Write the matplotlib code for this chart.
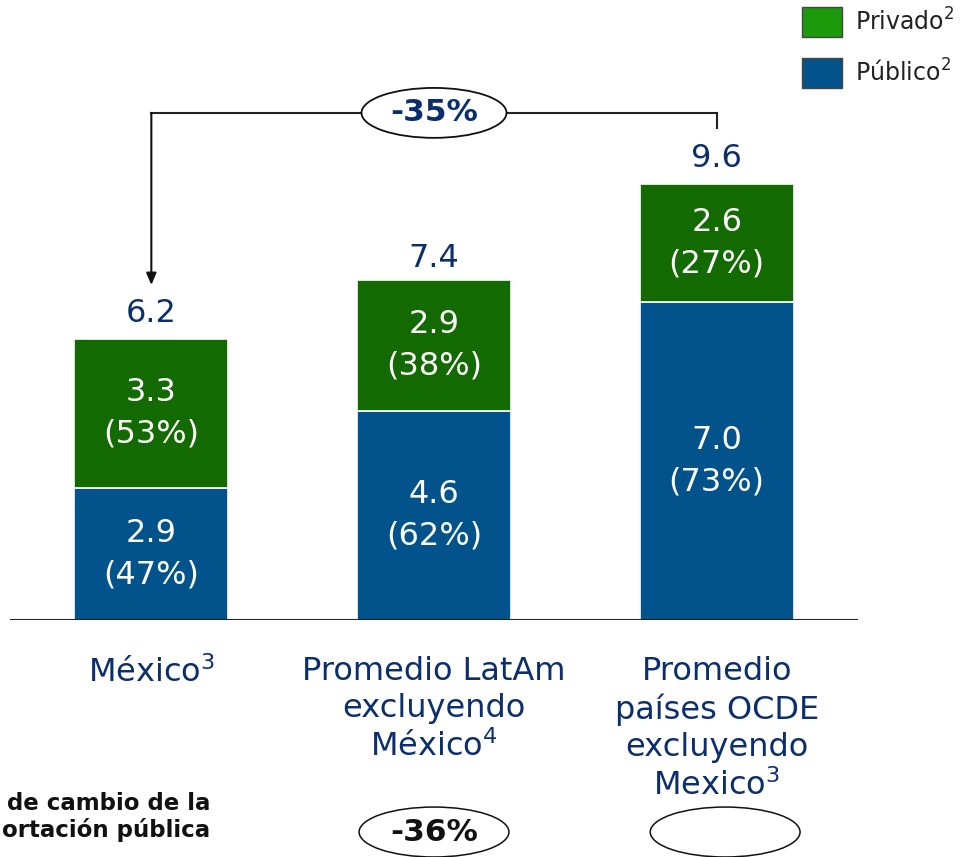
from matplotlib import pyplot as plt
from matplotlib.patches import Ellipse, Rectangle

# data
categorias = ["México$^{3}$", "Promedio LatAm\nexcluyendo\nMéxico$^{4}$",
              "Promedio\npaíses OCDE\nexcluyendo\nMexico$^{3}$"]
publico = [2.9, 4.6, 7.0]
privado = [3.3, 2.9, 2.6]
pct_publico = ["47%", "62%", "73%"]
pct_privado = ["53%", "38%", "27%"]
totales = [6.2, 7.4, 9.6]
cambio_total = "-35%"
cambio_publico = ["-36%", ""]
leyenda = ["Privado$^{2}$", "Público$^{2}$"]

azul = "#02538b"
verde = "#136a00"
verde_leyenda = "#1c9a0c"
navy = "#0b2f6e"

W, H = 967, 857
fig = plt.figure(figsize=(W / 100, H / 100), dpi=100)
ax = fig.add_axes([10 / W, (H - 620) / H, 848 / W, 620 / H])
ax.set_xlim(-0.5, 2.5)
ax.set_ylim(0, 620 / 45.4)
ax.axis("off")

x = range(len(categorias))
ax.bar(x, publico, width=0.545, color=azul, edgecolor="white", linewidth=1.2)
ax.bar(x, privado, width=0.545, bottom=publico, color=verde, edgecolor="white", linewidth=1.2)
ax.axhline(0, color="#222222", lw=1.5)

for i in x:
    ax.text(i, publico[i] / 2, f"{publico[i]:.1f}\n({pct_publico[i]})", ha="center", va="center",
            color="white", fontsize=23, linespacing=1.45)
    ax.text(i, publico[i] + privado[i] / 2, f"{privado[i]:.1f}\n({pct_privado[i]})", ha="center",
            va="center", color="white", fontsize=23, linespacing=1.45)
    ax.text(i, totales[i] + 0.56, f"{totales[i]:.1f}", ha="center", va="center", color=navy, fontsize=23)
    ax.text(i, -0.8, categorias[i], ha="center", va="top", color=navy, fontsize=23,
            linespacing=1.25, clip_on=False)

# bracket with the change
yb = 11.17
ax.plot([0, 2], [yb, yb], color="#222222", lw=1.5, clip_on=False)
ax.plot([2, 2], [yb, 10.84], color="#222222", lw=1.5, clip_on=False)
ax.annotate("", xy=(0, 7.38), xytext=(0, yb),
            arrowprops=dict(arrowstyle="-|>,head_length=0.7,head_width=0.3", color="#111111",
                            lw=1.5, shrinkA=0, shrinkB=0))
ax.add_patch(Ellipse((1, yb), 0.513, 1.1, facecolor="white", edgecolor="#111111", lw=1.3, zorder=3))
ax.text(1, yb, cambio_total, ha="center", va="center", color=navy, fontsize=22.5,
        fontweight="bold", zorder=4)

# bottom row
for xc, txt in zip([1.0, 2.03], cambio_publico):
    ax.add_patch(Ellipse((xc, -4.67), 0.53, 1.1, facecolor="white", edgecolor="#111111",
                         lw=1.1, clip_on=False))
    ax.text(xc, -4.67, txt, ha="center", va="center", color="#111111", fontsize=22.5,
            fontweight="bold", clip_on=False)

fig.text(210 / W, 1 - 817 / H, "de cambio de la\nortación pública",
         ha="right", va="center", fontsize=16.5, fontweight="bold", color="#111111",
         multialignment="right", linespacing=1.2)

# legend
for yy, col, lab in [(7, verde_leyenda, leyenda[0]), (58, azul, leyenda[1])]:
    fig.patches.append(Rectangle((802 / W, 1 - (yy + 30) / H), 40 / W, 30 / H, facecolor=col,
                                 edgecolor="#444444", lw=1, transform=fig.transFigure))
    fig.text(855 / W, 1 - (yy + 15) / H, lab, ha="left", va="center", fontsize=17, color="#222222")

fig.savefig("out.png", dpi=100)
